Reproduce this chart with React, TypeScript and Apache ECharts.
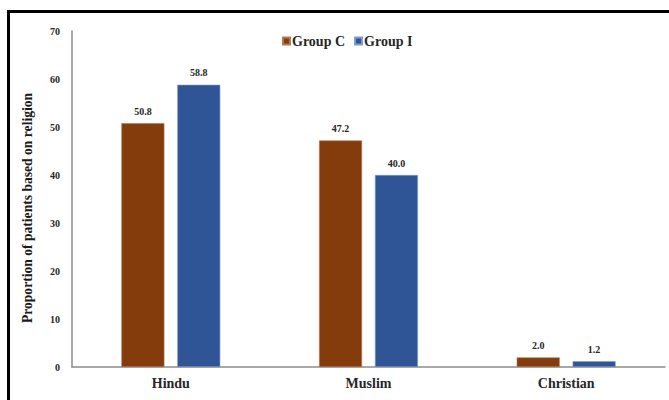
import React, { useEffect, useRef } from "react";
import * as echarts from "echarts";

const categories = ["Hindu", "Muslim", "Christian"];
const groupC = [50.8, 47.2, 2.0];
const groupI = [58.8, 40.0, 1.2];
const seriesNames = ["Group C", "Group I"];
const yTicks = { min: 0, max: 70, interval: 10 };
const yTitle = "Proportion of patients based on religion";

const FONT = "Liberation Serif, Times New Roman, serif";
const BROWN = "#843C0C";
const BLUE = "#2F5597";

export default function App() {
  const ref = useRef<HTMLDivElement>(null);

  useEffect(() => {
    document.body.style.margin = "0";
    const chart = echarts.init(ref.current!, null, { renderer: "svg" });
    const valueLabel = {
      show: true,
      position: "top" as const,
      distance: 7,
      fontFamily: FONT,
      fontWeight: "bold" as const,
      fontSize: 10,
      color: "#262626",
      formatter: (p: any) => Number(p.value).toFixed(1),
    };
    chart.setOption({
      animation: false,
      backgroundColor: "#ffffff",
      textStyle: { fontFamily: FONT },
      legend: {
        data: seriesNames,
        top: 29,
        left: 277,
        itemWidth: 7,
        itemHeight: 7,
        itemGap: 9,
        icon: "rect",
        textStyle: {
          fontFamily: FONT,
          fontWeight: "bold",
          fontSize: 14,
          color: "#262626",
          padding: [0, 0, 0, -3],
        },
      },
      grid: { left: 72, right: 4, top: 31, bottom: 33, containLabel: false },
      xAxis: {
        type: "category",
        data: categories,
        axisLine: { lineStyle: { color: "#8c8c8c", width: 1.5 } },
        axisTick: { show: false },
        axisLabel: {
          fontFamily: FONT,
          fontWeight: "bold",
          fontSize: 14,
          color: "#262626",
          margin: 9,
        },
      },
      yAxis: {
        type: "value",
        min: yTicks.min,
        max: yTicks.max,
        interval: yTicks.interval,
        axisLine: { show: true, lineStyle: { color: "#8c8c8c", width: 1.5 } },
        axisTick: { show: false },
        splitLine: { show: false },
        axisLabel: {
          fontFamily: FONT,
          fontWeight: "bold",
          fontSize: 10,
          color: "#262626",
          margin: 12,
        },
      },
      series: [
        {
          name: seriesNames[0],
          type: "bar",
          data: groupC,
          barWidth: 43,
          barGap: "30%",
          itemStyle: { color: BROWN, borderColor: "#b07a55", borderWidth: 0.6 },
          label: valueLabel,
        },
        {
          name: seriesNames[1],
          type: "bar",
          data: groupI,
          barWidth: 43,
          itemStyle: { color: BLUE, borderColor: "#7f9ccc", borderWidth: 0.6 },
          label: valueLabel,
        },
      ],
      graphic: [
        {
          type: "line",
          shape: { x1: 7, y1: 11.5, x2: 669, y2: 11.5 },
          style: { stroke: "#000", lineWidth: 3 },
        },
        {
          type: "line",
          shape: { x1: 8.5, y1: 10, x2: 8.5, y2: 400 },
          style: { stroke: "#000", lineWidth: 3 },
        },
        {
          type: "text",
          x: 27,
          y: 208,
          rotation: Math.PI / 2,
          style: {
            text: yTitle,
            fontFamily: FONT,
            fontWeight: "bold",
            fontSize: 13.6,
            fill: "#1a1a1a",
            align: "center",
            verticalAlign: "middle",
          },
        },
      ],
    });
    return () => chart.dispose();
  }, []);

  return <div ref={ref} style={{ width: 669, height: 400 }} />;
}
